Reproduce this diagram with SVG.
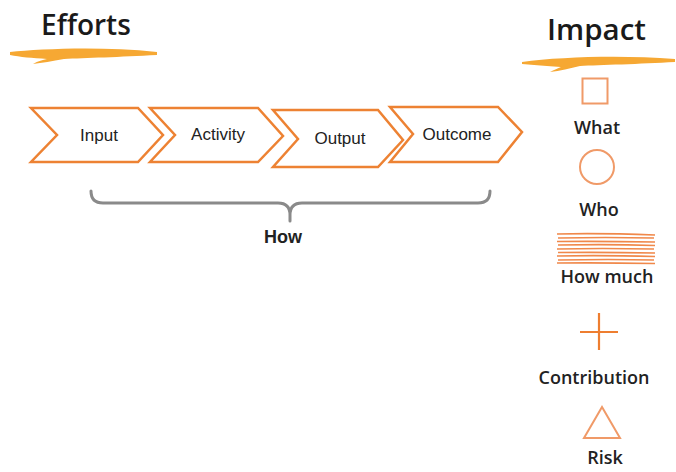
<svg xmlns="http://www.w3.org/2000/svg" width="676" height="472" viewBox="0 0 676 472">
<style>
.head{font-family:"Open Sans","Liberation Sans",sans-serif;font-weight:600;fill:#1a1a1a;font-size:28px}
.lbl{font-family:"Open Sans","Liberation Sans",sans-serif;font-weight:600;fill:#222;font-size:18px;text-anchor:middle}
.chev{fill:#fff;stroke:#ED8233;stroke-width:2.5;stroke-linejoin:miter}
.ct{font-family:"Liberation Sans",Arial,sans-serif;fill:#222;font-size:17px;text-anchor:middle}
.brush{fill:#F6A833}
.icon{fill:none;stroke:#F09A68;stroke-width:2}
</style>
<rect width="676" height="472" fill="#fff"/>
<g id="efforts">
<path class="brush" d="M10,52 C40,49 100,46 157,52 L157,55 C120,57 85,58 64,59 C52,61 42,63 33,64 C38,61 43,60 47,59 C32,58 20,57 10,55 Z"/>
<text class="head" x="41" y="35">Efforts</text>
</g>
<g id="impact">
<path class="brush" d="M522,62 C560,57 620,55 675,59 L675,62 C640,64 600,65 580,66 C570,68 560,71 550,72 C554,70 558,68 561,67 C546,66 534,65 522,64 Z"/>
<text class="head" x="547" y="40" style="font-size:29.5px">Impact</text>
</g>
<g id="input">
<polygon class="chev" points="31,108 138,108 163,135 138,162 31,162 57,135"/>
<text class="ct" x="99" y="141">Input</text>
</g>
<g id="activity">
<polygon class="chev" points="150,108 258,108 283,136 258,162 150,162 175,135"/>
<text class="ct" x="218" y="140">Activity</text>
</g>
<g id="output">
<polygon class="chev" points="273,110 378,110 403,140 378,167 273,167 298,139"/>
<text class="ct" x="340" y="144">Output</text>
</g>
<g id="outcome">
<polygon class="chev" points="390,107 498,107 522,132 498,162 390,162 413,134"/>
<text class="ct" x="457" y="140">Outcome</text>
</g>
<g id="connectors">
<path d="M91,191 Q91,203 103,203 L278,203 Q290,203 290,215 L290,221 M290,215 Q290,203 302,203 L478,203 Q490,203 490,191" fill="none" stroke="#8a8a8a" stroke-width="3" stroke-linecap="round"/>
</g>
<g id="how">
<text class="lbl" x="283" y="243" style="font-family:'Liberation Sans',Arial,sans-serif;font-weight:700;font-size:18px">How</text>
</g>
<g id="what">
<rect class="icon" x="582.5" y="78.5" width="25" height="25" stroke="#F4AA85"/>
<text class="lbl" x="597" y="134">What</text>
</g>
<g id="who">
<circle class="icon" cx="597" cy="167" r="17"/>
<text class="lbl" x="599" y="216">Who</text>
</g>
<g id="howmuch">
<g stroke="#F0884A" stroke-width="1.6" fill="none">
<path d="M557,234 Q600,233 655,235"/>
<path d="M558,238 Q605,237 654,238"/>
<path d="M557,241.5 Q600,241 655,242"/>
<path d="M558,245 Q610,244 655,245.5"/>
<path d="M557,249 Q600,248 654,249"/>
<path d="M558,252.5 Q605,252 655,253"/>
<path d="M557,256 Q600,255 655,256.5"/>
<path d="M558,260 Q610,259 654,260"/>
<path d="M557,263 Q600,262.5 655,263.5"/>
</g>
<text class="lbl" x="607" y="283">How much</text>
</g>
<g id="contribution">
<path d="M599,313 L599,350 M580,332 L618,332" stroke="#EE7E30" stroke-width="2.2" fill="none"/>
<text class="lbl" x="594" y="384">Contribution</text>
</g>
<g id="risk">
<polygon class="icon" points="602,407 620,438 584,438" stroke="#F29A66"/>
<text class="lbl" x="605" y="464">Risk</text>
</g>
</svg>
